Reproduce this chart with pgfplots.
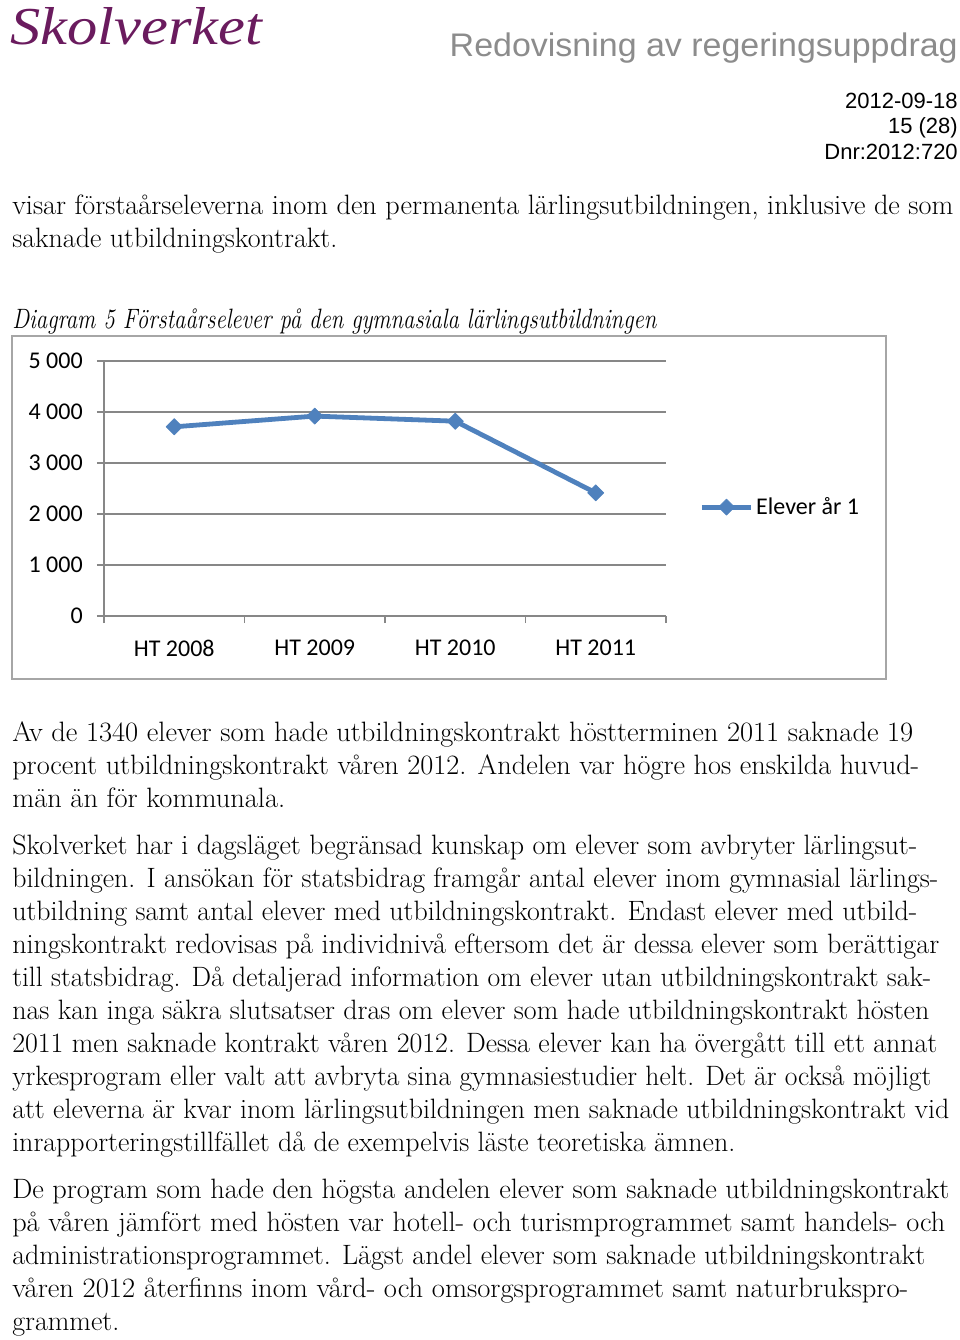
\documentclass[border=0pt]{standalone}
\usepackage{fontspec}
\usepackage{graphicx}
\usepackage{pgfplots}
\pgfplotsset{compat=1.18}
\newfontfamily\carlito{Carlito}
\newfontfamily\arialf{Liberation Sans}
\newfontfamily\seriff{Liberation Serif}
\newdimen\px \px=0.75pt
\definecolor{exblue}{HTML}{4F81BD}
\definecolor{gridgray}{HTML}{878787}
\definecolor{boxgray}{HTML}{A6A6A6}
\definecolor{skol}{HTML}{6A1B5E}
\definecolor{headgray}{HTML}{8C8C8C}
\newcommand\bodyfont{\fontsize{21pt}{24pt}\selectfont}
\newcommand\tl[3]{\node[anchor=base west,inner sep=0pt,font=\bodyfont] at (12,#1) {\resizebox{#2\px}{\height}{#3}};}
\newcommand\chartfont{\carlito\fontsize{18pt}{21pt}\selectfont}
\begin{document}
\begin{tikzpicture}
\begin{scope}[x=0.75pt,y=-0.75pt]
\useasboundingbox (0,0) rectangle (960,1340);
% header
\node[anchor=base west,inner sep=0pt,text=skol,font=\seriff\itshape\fontsize{40pt}{44pt}\selectfont] at (10,44) {\resizebox{252\px}{\height}{Skolverket}};
\node[anchor=base east,inner sep=0pt,text=headgray,font=\arialf\fontsize{24.5pt}{28pt}\selectfont] at (958,56) {\resizebox{508\px}{\height}{Redovisning av regeringsuppdrag}};
\node[anchor=base east,inner sep=0pt,font=\arialf\fontsize{16.5pt}{19pt}\selectfont] at (958,108) {2012-09-18};
\node[anchor=base east,inner sep=0pt,font=\arialf\fontsize{16.5pt}{19pt}\selectfont] at (958,133) {15 (28)};
\node[anchor=base east,inner sep=0pt,font=\arialf\fontsize{16.5pt}{19pt}\selectfont] at (958,159) {Dnr:2012:720};
% text before chart
\tl{214}{941}{visar förstaårseleverna inom den permanenta lärlingsutbildningen, inklusive de som}
\tl{247}{325}{saknade utbildningskontrakt.}
\node[anchor=base west,inner sep=0pt,font=\bodyfont\itshape] at (12,328) {\resizebox{644\px}{\height}{Diagram 5 Förstaårselever på den gymnasiala lärlingsutbildningen}};
% chart frame
\draw[boxgray,line width=1.3pt] (12,336) rectangle (886,679);
% text after chart
\tl{741}{901}{Av de 1340 elever som hade utbildningskontrakt höstterminen 2011 saknade 19}
\tl{774}{907}{procent utbildningskontrakt våren 2012. Andelen var högre hos enskilda huvud-}
\tl{807}{273}{män än för kommunala.}
\tl{854}{905}{Skolverket har i dagsläget begränsad kunskap om elever som avbryter lärlingsut-}
\tl{887}{926}{bildningen. I ansökan för statsbidrag framgår antal elever inom gymnasial lärlings-}
\tl{920}{905}{utbildning samt antal elever med utbildningskontrakt. Endast elever med utbild-}
\tl{953}{927}{ningskontrakt redovisas på individnivå eftersom det är dessa elever som berättigar}
\tl{986}{919}{till statsbidrag. Då detaljerad information om elever utan utbildningskontrakt sak-}
\tl{1019}{917}{nas kan inga säkra slutsatser dras om elever som hade utbildningskontrakt hösten}
\tl{1052}{925}{2011 men saknade kontrakt våren 2012. Dessa elever kan ha övergått till ett annat}
\tl{1085}{919}{yrkesprogram eller valt att avbryta sina gymnasiestudier helt. Det är också möjligt}
\tl{1118}{937}{att eleverna är kvar inom lärlingsutbildningen men saknade utbildningskontrakt vid}
\tl{1151}{723}{inrapporteringstillfället då de exempelvis läste teoretiska ämnen.}
\tl{1198}{937}{De program som hade den högsta andelen elever som saknade utbildningskontrakt}
\tl{1231}{933}{på våren jämfört med hösten var hotell- och turismprogrammet samt handels- och}
\tl{1264}{913}{administrationsprogrammet. Lägst andel elever som saknade utbildningskontrakt}
\tl{1297}{896}{våren 2012 återfinns inom vård- och omsorgsprogrammet samt naturbrukspro-}
\tl{1330}{107}{grammet.}
\end{scope}
\begin{axis}[
  at={(78pt,-462pt)}, anchor=south west,
  scale only axis, width=562\px, height=255\px,
  xmin=-0.5, xmax=3.5, ymin=0, ymax=5000,
  axis lines*=left,
  axis line style={draw=gridgray,line width=1pt},
  ytick={0,1000,2000,3000,4000,5000},
  yticklabels={0,1 000,2 000,3 000,4 000,5 000},
  ymajorgrids,
  major grid style={draw=gridgray,line width=1pt},
  tick align=outside,
  major tick length=7\px,
  ytick style={draw=gridgray,line width=1pt},
  xtick={0,1,2,3},
  xticklabels={HT 2008,HT 2009,HT 2010,HT 2011},
  xtick style={draw=none},
  extra x ticks={-0.5,0.5,1.5,2.5,3.5},
  extra x tick labels={},
  extra x tick style={xtick style={draw=gridgray,line width=1pt},xmajorgrids=false},
  yticklabel style={font=\chartfont,inner sep=0pt,xshift=-14\px},
  xticklabel style={font=\chartfont,inner sep=0pt,yshift=-17\px},
  legend style={at={(1.059,0.427)},anchor=west,draw=none,fill=none,font=\chartfont,inner sep=0pt},
  legend image code/.code={\draw[mark repeat=2,mark phase=2] plot coordinates {(0pt,0pt)(18.5pt,0pt)(37pt,0pt)};},
]
\addplot[exblue,line width=3.6pt,line join=round,mark=square*,mark size=4.3pt,mark options={rotate=45,solid,line width=0.5pt,fill=exblue}]
  coordinates {(0,3710) (1,3920) (2,3820) (3,2415)};
\addlegendentry{Elever år 1}
\end{axis}
\end{tikzpicture}
\end{document}
